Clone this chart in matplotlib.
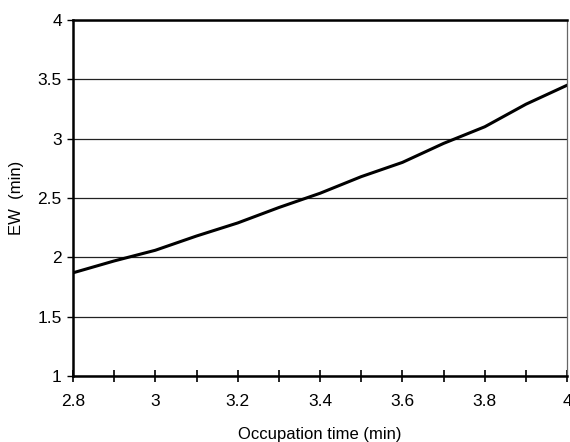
import numpy as np
import matplotlib
matplotlib.use("Agg")
import matplotlib.pyplot as plt
from matplotlib.ticker import MultipleLocator, FuncFormatter

# Values
occupation_time = [2.8, 2.9, 3.0, 3.1, 3.2, 3.3, 3.4, 3.5, 3.6, 3.7, 3.8, 3.9, 4.0]
ew = [1.87, 1.97, 2.06, 2.18, 2.29, 2.42, 2.54, 2.68, 2.80, 2.96, 3.10, 3.29, 3.45]

plt.rcParams["font.family"] = ["Liberation Sans", "DejaVu Sans"]

fig = plt.figure(figsize=(5.70, 4.42), dpi=100)
ax = fig.add_axes([0.128, 0.149, 0.867, 0.806])

ax.plot(occupation_time, ew, color="black", lw=2.2, solid_joinstyle="round")

ax.set_xlim(2.8, 4.0)
ax.set_ylim(1, 4)
ax.xaxis.set_major_locator(MultipleLocator(0.2))
ax.xaxis.set_minor_locator(MultipleLocator(0.1))
ax.yaxis.set_major_locator(MultipleLocator(0.5))
ax.xaxis.set_major_formatter(FuncFormatter(lambda v, _: f"{v:g}"))
ax.yaxis.set_major_formatter(FuncFormatter(lambda v, _: f"{v:g}"))

ax.grid(axis="y", color="#222222", lw=0.9)
ax.set_axisbelow(True)

for side in ("left", "bottom", "top"):
    ax.spines[side].set_linewidth(1.8)
    ax.spines[side].set_color("black")
ax.spines["right"].set_linewidth(0.9)
ax.spines["right"].set_color("#666666")

ax.tick_params(axis="x", which="both", direction="inout", length=8, width=1.2,
               labelsize=12.5, pad=9)
ax.tick_params(axis="y", direction="out", length=4, width=1.0, labelsize=12.5, pad=4)

ax.set_xlabel("Occupation time (min)", fontsize=12, labelpad=13)
ax.set_ylabel("EW  (min)", fontsize=12, labelpad=10)

fig.savefig("out.png", dpi=100)
